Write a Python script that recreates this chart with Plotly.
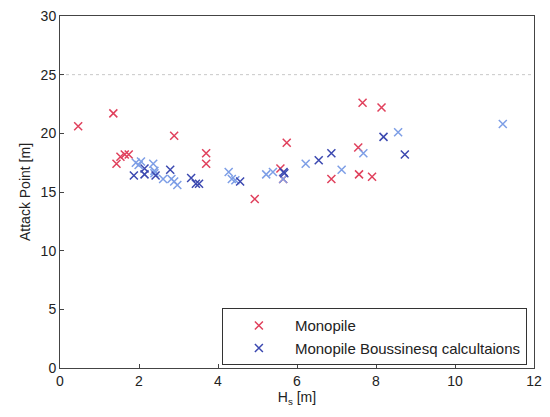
import plotly.graph_objects as go

# Monopile (red)
mono_x = [0.46, 1.35, 1.43, 1.53, 1.64, 1.74, 2.89, 3.70, 3.70, 4.93, 5.58, 5.65, 5.74,
          6.87, 7.55, 7.66, 8.14, 7.57, 7.90]
mono_y = [20.6, 21.7, 17.4, 18.0, 18.2, 18.2, 19.8, 18.3, 17.4, 14.4, 17.0, 16.1, 19.2,
          16.1, 18.8, 22.6, 22.2, 16.5, 16.3]

# Monopile Boussinesq calculations - darker shade
bous_dark_x = [1.87, 2.14, 2.14, 2.42, 2.79, 3.32, 3.44, 3.52, 4.56, 5.66, 5.68,
               6.55, 6.87, 8.19, 8.73]
bous_dark_y = [16.4, 16.5, 17.0, 16.4, 16.9, 16.2, 15.7, 15.7, 15.9, 16.7, 16.6,
               17.7, 18.3, 19.7, 18.2]
# lighter shade
bous_light_x = [1.92, 1.99, 2.05, 2.36, 2.39, 2.39, 2.61, 2.82, 2.89, 2.97, 4.27, 4.35,
                4.44, 5.22, 5.39, 5.65, 6.22, 7.13, 7.68, 8.56, 11.21]
bous_light_y = [17.5, 17.3, 17.6, 17.4, 16.8, 16.6, 16.1, 16.1, 15.9, 15.6, 16.7, 16.1,
                16.0, 16.5, 16.7, 16.1, 17.4, 16.9, 18.3, 20.1, 20.8]

ref_x = [0, 12]
ref_y = [25, 25]

x_ticks = [0, 2, 4, 6, 8, 10, 12]
y_ticks = [0, 5, 10, 15, 20, 25, 30]

RED = "#e0405c"
DARK_BLUE = "#3b48b0"
LIGHT_BLUE = "#7d9ee6"

fig = go.Figure()
fig.add_trace(go.Scatter(x=ref_x, y=ref_y, mode="lines",
                         line=dict(color="#c8c8c8", width=1, dash="dot"),
                         showlegend=False, hoverinfo="skip"))
fig.add_trace(go.Scatter(x=mono_x, y=mono_y, mode="markers", name="Monopile",
                         marker=dict(symbol="x-thin", size=8,
                                     line=dict(color=RED, width=1.5))))
fig.add_trace(go.Scatter(x=bous_light_x, y=bous_light_y, mode="markers",
                         name="Monopile Boussinesq calcultaions", showlegend=False,
                         legendgroup="b",
                         marker=dict(symbol="x-thin", size=8,
                                     line=dict(color=LIGHT_BLUE, width=1.5))))
fig.add_trace(go.Scatter(x=bous_dark_x, y=bous_dark_y, mode="markers",
                         name="Monopile Boussinesq calcultaions", legendgroup="b",
                         marker=dict(symbol="x-thin", size=8,
                                     line=dict(color=DARK_BLUE, width=1.5))))

axis_common = dict(showgrid=False, zeroline=False, showline=True, linecolor="#444",
                   linewidth=1, mirror=True, ticks="inside", ticklen=4,
                   tickcolor="#444", tickfont=dict(size=14, color="#222"))

fig.update_layout(
    width=550, height=417,
    margin=dict(l=60, r=8, t=15, b=49),
    paper_bgcolor="white", plot_bgcolor="white",
    font=dict(family="Liberation Sans, Arial, sans-serif", color="#222"),
    xaxis=dict(range=[0, 12], tickvals=x_ticks, title=dict(text="H<sub>s</sub> [m]",
               font=dict(size=14), standoff=2), **axis_common),
    yaxis=dict(range=[0, 30], tickvals=y_ticks, title=dict(text="Attack Point [m]",
               font=dict(size=14), standoff=6), **axis_common),
    legend=dict(x=0.985, xanchor="right", y=0.17, yanchor="top",
                bordercolor="#333", borderwidth=1, bgcolor="white",
                font=dict(size=15), tracegroupgap=0, itemwidth=62),
)

fig.write_html("out.html")
